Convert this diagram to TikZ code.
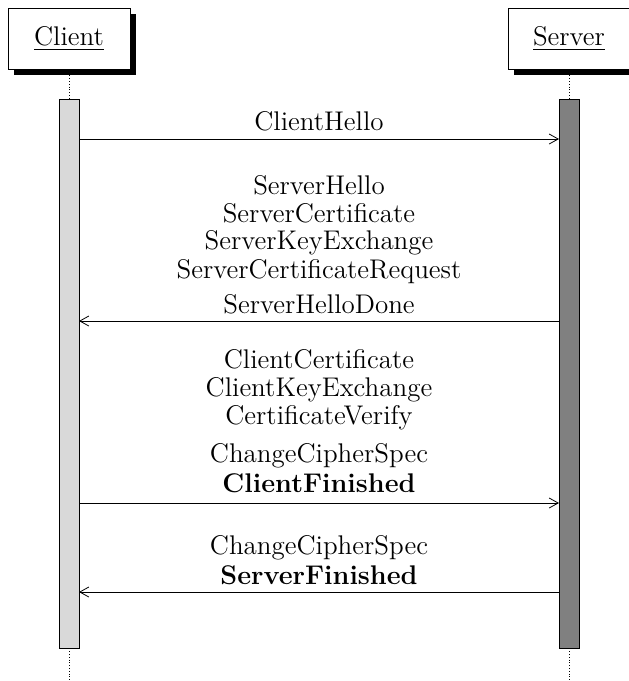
\documentclass[tikz,border=0pt]{standalone}
\usetikzlibrary{arrows.meta,shadows}
\begin{document}
\begin{tikzpicture}[x=0.5pt,y=-0.5pt,
  every node/.style={font=\fontsize{13.5}{16}\selectfont},
  actor/.style={draw,fill=white,minimum width=61pt,minimum height=30.5pt,inner sep=0pt,
    drop shadow={shadow xshift=3pt,shadow yshift=-3pt,fill=black,opacity=1}},
  bar/.style={draw,minimum width=10pt,minimum height=274.5pt,inner sep=0pt},
  life/.style={densely dotted,line width=0.4pt},
  msg/.style={-{Straight Barb[length=4.5pt,width=5pt]},line width=0.4pt},
  lbl/.style={anchor=base,inner sep=0pt}]
\useasboundingbox (0,0) rectangle (628,681);
% lifelines
\node[actor] (client) at (69,38.5) {\underline{Client}};
\node[actor] (server) at (569,38.5) {\underline{Server}};
\node[bar,fill=black!15] (cbar) at (69,373.5) {};
\node[bar,fill=black!50] (sbar) at (569,373.5) {};
\coordinate (cend) at (69,681);
\coordinate (send) at (569,681);
\draw[life] (client.south) ++(0,6) -- (cbar.north);
\draw[life] (server.south) ++(0,6) -- (sbar.north);
\draw[life] (cbar.south) -- (cend);
\draw[life] (sbar.south) -- (send);
% message coordinates
\coordinate (c1) at (79,139); \coordinate (s1) at (559,139);
\coordinate (c2) at (79,321); \coordinate (s2) at (559,321);
\coordinate (c3) at (79,503); \coordinate (s3) at (559,503);
\coordinate (c4) at (79,592); \coordinate (s4) at (559,592);
\draw[msg] (c1) -- (s1);
\draw[msg] (s2) -- (c2);
\draw[msg] (c3) -- (s3);
\draw[msg] (s4) -- (c4);
% labels
\node[lbl] (t1) at (319,130) {ClientHello};
\node[lbl] (t2) at (319,194) {ServerHello};
\node[lbl] (t3) at (319,222) {ServerCertificate};
\node[lbl] (t4) at (319,249) {ServerKeyExchange};
\node[lbl] (t5) at (319,278) {ServerCertificateRequest};
\node[lbl] (t6) at (319,313) {ServerHelloDone};
\node[lbl] (t7) at (319,368) {ClientCertificate};
\node[lbl] (t8) at (319,396) {ClientKeyExchange};
\node[lbl] (t9) at (319,424) {CertificateVerify};
\node[lbl] (t10) at (319,462) {ChangeCipherSpec};
\node[lbl] (t11) at (319,492) {\textbf{ClientFinished}};
\node[lbl] (t12) at (319,554) {ChangeCipherSpec};
\node[lbl] (t13) at (319,584) {\textbf{ServerFinished}};
\end{tikzpicture}
\end{document}
